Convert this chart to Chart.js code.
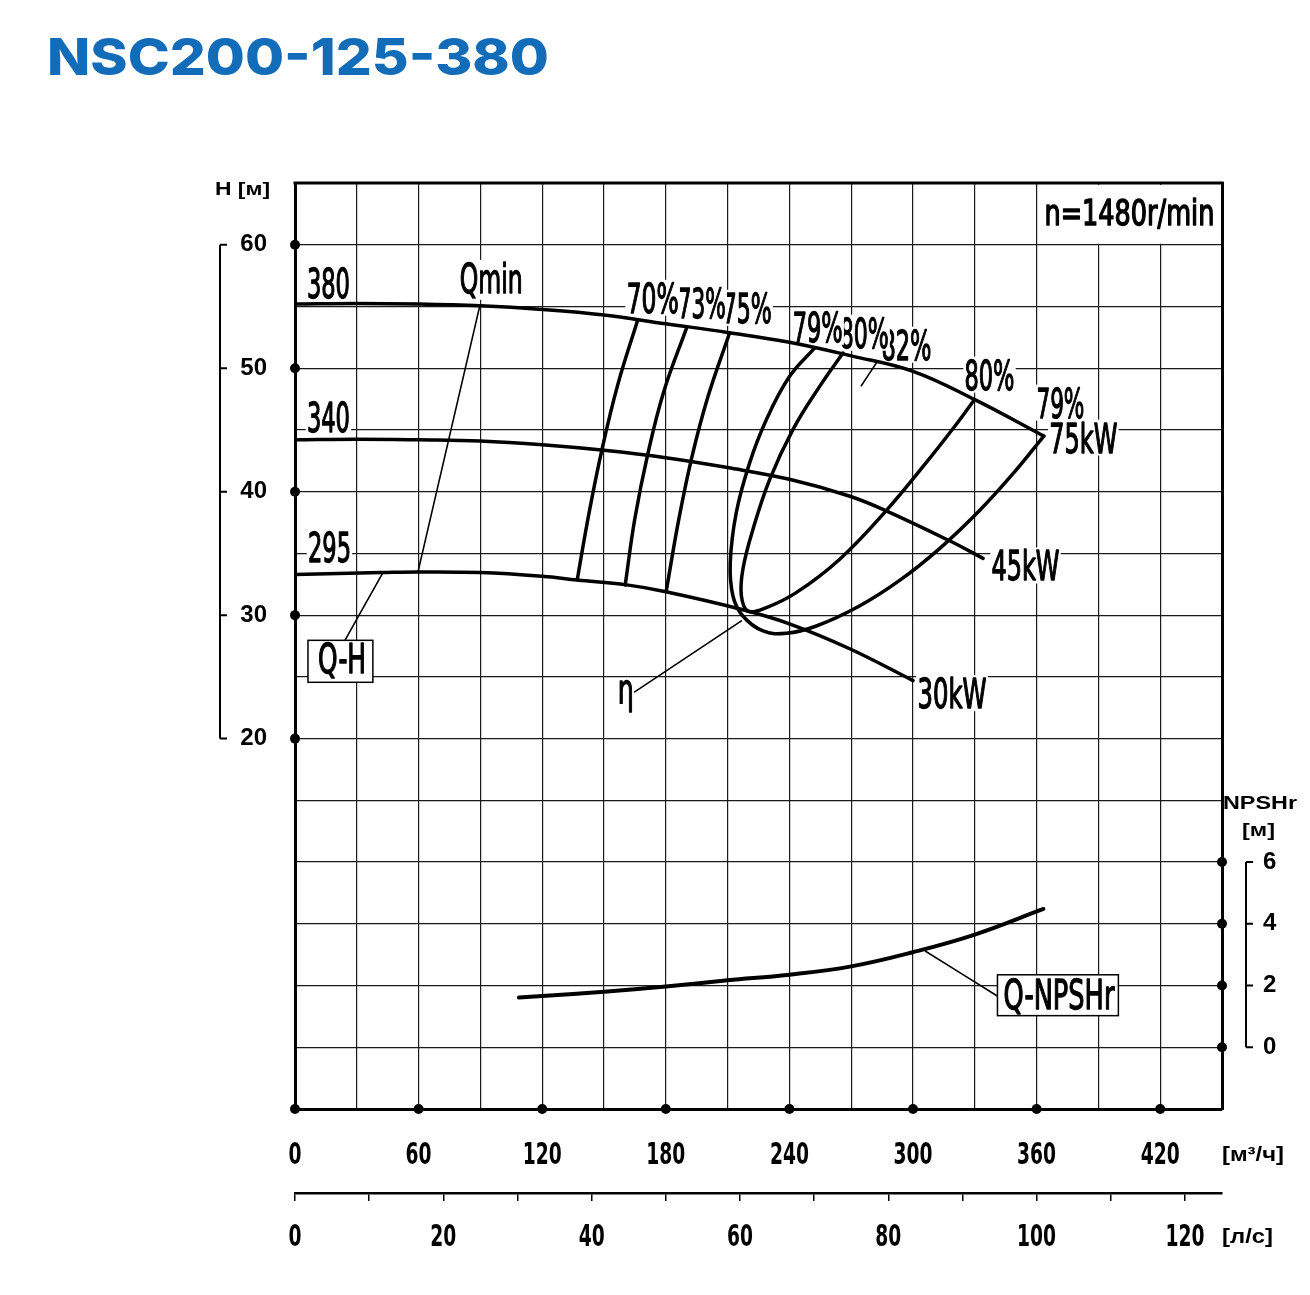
<!DOCTYPE html>
<html>
<head>
<meta charset="utf-8">
<script src="https://cdn.jsdelivr.net/npm/chart.js@4.4.1/dist/chart.umd.min.js"></script>
<style>
html, body { margin: 0; padding: 0; background: #fff; }
#wrap { position: relative; width: 1310px; height: 1295px; }
</style>
</head>
<body>
<div id="wrap"><canvas id="grafico" width="1310" height="1295"></canvas></div>
<script>
// Q в м3/ч, H в м
var q380 = [0, 30, 60, 90, 120, 150, 180, 210, 240, 270, 300, 330, 363.5];
var h380 = [55.2, 55.25, 55.2, 55.05, 54.75, 54.3, 53.6, 52.9, 52.1, 51.0, 49.75, 47.45, 44.5];
var q340 = [0, 30, 60, 90, 120, 150, 180, 210, 240, 269, 287, 318, 334];
var h340 = [44.2, 44.25, 44.2, 44.1, 43.8, 43.35, 42.75, 41.95, 41.0, 39.65, 38.45, 36.0, 34.6];
var q295 = [0, 42, 60, 90, 120, 137, 161, 180, 216, 240, 269, 300];
var h295 = [33.3, 33.45, 33.5, 33.45, 33.15, 32.85, 32.45, 31.9, 30.5, 29.3, 27.3, 24.7];

var qMin = [89.7, 59.7];
var hMin = [55.05, 33.5];

// линии КПД
var qEta70 = [166.4, 156.7, 148.9, 142.6, 137.0];
var hEta70 = [53.92, 48.67, 43.33, 38.15, 32.86];
var qEta73 = [190.1, 179.0, 171.2, 164.9, 160.3];
var hEta73 = [53.27, 48.10, 43.0, 37.75, 32.44];
var qEta75 = [211.0, 200.3, 192.6, 186.3, 180.2];
var hEta75 = [52.87, 47.61, 42.76, 37.75, 31.93];
var qEta79 = [252.2, 240.1, 228.8, 220.7, 214.2, 211.3, 212.6, 217.4, 227.2, 238.5, 253.1, 274.0, 293.5, 312.9, 332.3, 349.2, 363.5];
var hEta79 = [51.63, 49.34, 45.83, 42.33, 38.29, 34.25, 31.55, 29.93, 28.72, 28.53, 29.12, 30.74, 32.81, 35.39, 38.47, 41.58, 44.5];
var qEta80 = [266.0, 254.7, 241.7, 230.4, 222.3, 217.4, 216.7, 219.9, 228.8, 243.3, 264.3, 286.6, 306.0, 320.1, 329.8];
var hEta80 = [51.23, 48.53, 45.03, 40.98, 36.94, 33.7, 31.55, 30.33, 30.61, 31.82, 34.51, 38.39, 42.27, 45.26, 47.45];

// NPSHr, м
var qNpsh = [108.7, 120, 150, 180, 210, 240, 270, 300, 330, 363.3];
var npsh = [1.61, 1.66, 1.80, 1.97, 2.17, 2.35, 2.62, 3.08, 3.65, 4.48];

// подписи шкал
var hTicks = [20, 30, 40, 50, 60];
var qTicks = [0, 60, 120, 180, 240, 300, 360, 420];
var lsTicks = [0, 20, 40, 60, 80, 100, 120];
var lsMinor = [0, 10, 20, 30, 40, 50, 60, 70, 80, 90, 100, 110, 120];
var npshTicks = [0, 2, 4, 6];

var narrow = "'Liberation Sans Narrow', 'DejaVu Sans Condensed', 'Liberation Sans', sans-serif";
var wide = "'Liberation Sans', Arial, sans-serif";

// подписи на графике: текст, Q, H (базовая линия), ширина
var labels = [
    ['380', 5.8, 55.7, 43],
    ['340', 5.8, 44.86, 43],
    ['295', 6.3, 34.27, 43],
    ['Qmin', 80.0, 56.1, 63],
    ['75%', 207.6, 53.68, 49],
    ['73%', 185.8, 54.08, 48],
    ['70%', 161.0, 54.49, 52],
    ['82%', 284.7, 50.69, 50],
    ['80%', 264.4, 51.66, 49],
    ['79%', 241.6, 52.14, 50],
    ['80%', 325.0, 48.26, 50],
    ['79%', 359.9, 46.0, 48],
    ['75kW', 366.2, 43.17, 68],
    ['45kW', 338.1, 32.81, 68],
    ['30kW', 302.2, 22.46, 69],
    ['\u03b7', 156.7, 22.87, 16]
];

function pts(qs, hs) {
    return qs.map(function (q, i) { return {x: q, y: hs[i]}; });
}

function curve(qs, hs, w, axis) {
    return {
        data: pts(qs, hs),
        showLine: true,
        borderColor: '#000',
        borderWidth: w,
        pointRadius: 0,
        tension: 0.4,
        yAxisID: axis || 'y',
        borderCapStyle: 'round',
        borderJoinStyle: 'round'
    };
}

// текст, сжатый до нужной ширины; stroke - утолщение штриха
function drawText(ctx, txt, px, py, w, font, bg, color, center, stroke) {
    ctx.save();
    ctx.font = font;
    ctx.textBaseline = 'alphabetic';
    ctx.textAlign = 'left';
    var m = ctx.measureText(txt);
    ctx.translate(center ? px - w / 2 : px, py);
    ctx.scale(w / m.width, 1);
    if (bg) {
        ctx.fillStyle = '#fff';
        ctx.fillRect(-2, -m.actualBoundingBoxAscent - 2, m.width + 4,
            m.actualBoundingBoxAscent + m.actualBoundingBoxDescent + 4);
    }
    ctx.fillStyle = color || '#000';
    ctx.fillText(txt, 0, 0);
    if (stroke) {
        ctx.strokeStyle = color || '#000';
        ctx.lineWidth = stroke;
        ctx.lineJoin = 'round';
        ctx.strokeText(txt, 0, 0);
    }
    ctx.restore();
}

var labelFont = '41px ' + narrow;
var tickFont = 'bold 30px ' + narrow;

var decor = {
    id: 'decor',
    beforeDatasetsDraw: function (chart) {
        var ctx = chart.ctx, a = chart.chartArea;
        var xs = chart.scales.x, ys = chart.scales.y;
        // поле с частотой вращения
        ctx.save();
        ctx.fillStyle = '#fff';
        ctx.fillRect(xs.getPixelForValue(360) + 1.5, a.top + 2, a.right - xs.getPixelForValue(360) - 3,
            ys.getPixelForValue(60) - a.top - 3);
        ctx.restore();
        drawText(ctx, 'n=1480r/min', xs.getPixelForValue(363.8), ys.getPixelForValue(61.6), 170, '35px ' + narrow, false, '#000', false, 1.4);
        labels.forEach(function (l) {
            drawText(ctx, l[0], xs.getPixelForValue(l[1]), ys.getPixelForValue(l[2]), l[3], labelFont, true, '#000', false, 1.3);
        });
    },
    afterDatasetsDraw: function (chart) {
        var ctx = chart.ctx;
        var xs = chart.scales.x, ys = chart.scales.y;
        function box(q1, h1, q2, h2, txt, tq, th, tw) {
            var x1 = xs.getPixelForValue(q1), y1 = ys.getPixelForValue(h1);
            var x2 = xs.getPixelForValue(q2), y2 = ys.getPixelForValue(h2);
            ctx.save();
            ctx.fillStyle = '#fff';
            ctx.strokeStyle = '#000';
            ctx.lineWidth = 1.5;
            ctx.fillRect(x1, y1, x2 - x1, y2 - y1);
            ctx.strokeRect(x1, y1, x2 - x1, y2 - y1);
            ctx.restore();
            drawText(ctx, txt, xs.getPixelForValue(tq), ys.getPixelForValue(th), tw, labelFont, false, '#000', false, 1.3);
        }
        box(6.3, 27.96, 37.8, 24.56, 'Q-H', 11.2, 25.3, 48);
        box(341.0, 0.87, 399.7, -2.44, 'Q-NPSHr', 343.9, -1.9, 111);
    },
    afterDraw: function (chart) {
        var ctx = chart.ctx, a = chart.chartArea;
        var xs = chart.scales.x, x2s = chart.scales.x2, ys = chart.scales.y, ns = chart.scales.y2;
        ctx.save();
        ctx.strokeStyle = '#000';
        ctx.lineWidth = 3;
        ctx.beginPath();
        ctx.moveTo(a.left - 1.5, a.top);
        ctx.lineTo(a.right + 1.5, a.top);
        ctx.stroke();

        // скобки шкал
        ctx.lineWidth = 2;
        ctx.beginPath();
        ctx.moveTo(220, ys.getPixelForValue(60));
        ctx.lineTo(220, ys.getPixelForValue(20));
        hTicks.forEach(function (v) {
            ctx.moveTo(220, ys.getPixelForValue(v));
            ctx.lineTo(227, ys.getPixelForValue(v));
        });
        ctx.moveTo(1246, ns.getPixelForValue(6));
        ctx.lineTo(1246, ns.getPixelForValue(0));
        npshTicks.forEach(function (v) {
            ctx.moveTo(1246, ns.getPixelForValue(v));
            ctx.lineTo(1253, ns.getPixelForValue(v));
        });
        ctx.stroke();

        // точки на осях
        ctx.fillStyle = '#000';
        function dot(x, y) {
            ctx.beginPath();
            ctx.arc(x, y, 5, 0, Math.PI * 2);
            ctx.fill();
        }
        hTicks.forEach(function (v) { dot(a.left, ys.getPixelForValue(v)); });
        qTicks.forEach(function (v) { dot(xs.getPixelForValue(v), a.bottom); });
        npshTicks.forEach(function (v) { dot(a.right, ns.getPixelForValue(v)); });
        ctx.restore();

        // подписи горизонтальных шкал
        qTicks.forEach(function (v) {
            var s = String(v);
            drawText(ctx, s, xs.getPixelForValue(v), 1164, s.length * 13, tickFont, false, '#000', true);
        });
        lsTicks.forEach(function (v) {
            var s = String(v);
            drawText(ctx, s, x2s.getPixelForValue(v), 1246, s.length * 13, tickFont, false, '#000', true);
        });

        drawText(ctx, 'NSC200-125-380', 47, 75, 502, '800 51px Inter, ' + wide, false, '#136cb8');
        drawText(ctx, 'H [\u043c]', 215, 195, 55, 'bold 18px ' + wide, false);
        drawText(ctx, 'NPSHr', 1223, 809, 74, 'bold 19px ' + wide, false);
        drawText(ctx, '[\u043c]', 1242, 836, 33, 'bold 19px ' + wide, false);
        drawText(ctx, '[\u043c\u00b3/\u0447]', 1222, 1161, 62, 'bold 20px ' + wide, false);
        drawText(ctx, '[\u043b/\u0441]', 1222, 1243, 51, 'bold 20px ' + wide, false);
    }
};

var sideFont = {family: wide, size: 24, weight: 'bold'};

var ctx = document.getElementById('grafico');
var myChart = new Chart(ctx, {
    type: 'scatter',
    data: {
        datasets: [
            curve(q380, h380, 3.5),
            curve(q340, h340, 3.5),
            curve(q295, h295, 3.5),
            curve(qMin, hMin, 1.6),
            curve(qEta70, hEta70, 3.5),
            curve(qEta73, hEta73, 3.5),
            curve(qEta75, hEta75, 3.5),
            curve(qEta79, hEta79, 3.5),
            curve(qEta80, hEta80, 3.5),
            curve(qNpsh, npsh, 4, 'y2'),
            curve([42.7, 24.25], [33.45, 27.96], 1.6),
            curve([216.7, 164.9], [29.53, 23.78], 1.6),
            curve([282.2, 274.9], [50.42, 48.58], 1.6),
            curve([306.1, 340.9], [3.11, 1.66], 1.6, 'y2')
        ]
    },
    options: {
        responsive: false,
        animation: false,
        events: [],
        layout: { padding: { top: 183, left: 0, right: 0, bottom: 0 } },
        plugins: {
            legend: { display: false },
            tooltip: { enabled: false }
        },
        scales: {
            x: {
                type: 'linear',
                position: 'bottom',
                weight: 0,
                min: 0,
                max: 450,
                afterFit: function (s) { s.height = 84; },
                grid: { color: '#1a1a1a', lineWidth: 1.2, drawTicks: false },
                border: { color: '#000', width: 3 },
                ticks: {
                    stepSize: 30, autoSkip: false, maxRotation: 0,
                    callback: function () { return ''; }
                }
            },
            x2: {
                type: 'linear',
                position: 'bottom',
                weight: 1,
                min: 0,
                max: 125,
                afterFit: function (s) { s.height = 102; },
                afterBuildTicks: function (s) {
                    s.ticks = lsMinor.map(function (v) { return {value: v}; });
                },
                grid: { drawOnChartArea: false, drawTicks: true, tickLength: 8, color: '#000', lineWidth: 1.5 },
                border: { color: '#000', width: 2.5 },
                ticks: {
                    autoSkip: false, maxRotation: 0,
                    callback: function () { return ''; }
                }
            },
            y: {
                type: 'linear',
                position: 'left',
                min: -10,
                max: 65,
                afterFit: function (s) { s.width = 295; },
                grid: { color: '#1a1a1a', lineWidth: 1.2, drawTicks: false },
                border: { color: '#000', width: 3 },
                ticks: {
                    stepSize: 5, padding: 28, autoSkip: false,
                    color: '#000', font: sideFont,
                    callback: function (v) { return hTicks.indexOf(v) >= 0 ? v : ''; }
                }
            },
            y2: {
                type: 'linear',
                position: 'right',
                min: -2,
                max: 28,
                afterFit: function (s) { s.width = 88; },
                grid: { drawOnChartArea: false, drawTicks: false },
                border: { color: '#000', width: 3 },
                ticks: {
                    stepSize: 2, padding: 41, autoSkip: false,
                    color: '#000', font: sideFont,
                    callback: function (v) { return npshTicks.indexOf(v) >= 0 ? v : ''; }
                }
            }
        }
    },
    plugins: [decor]
});
</script>
</body>
</html>
